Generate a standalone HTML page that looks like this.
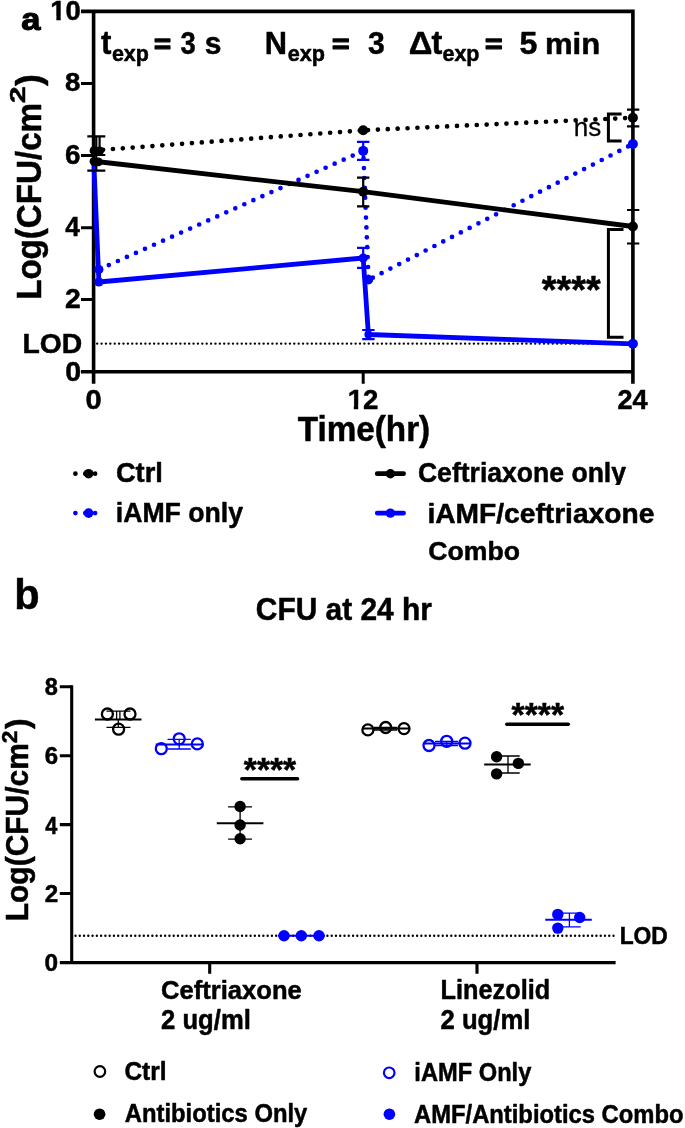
<!DOCTYPE html>
<html lang="en">
<head>
<meta charset="utf-8">
<title>Figure</title>
<style>
html,body{margin:0;padding:0;background:#fff;}
body{width:685px;height:1128px;overflow:hidden;}
svg{display:block;filter:blur(0.45px);}
text{font-family:"Liberation Sans",Arial,sans-serif;font-weight:bold;fill:#000;stroke:#000;stroke-width:0.5px;stroke-linejoin:round;}
.reg{font-weight:normal;stroke-width:0.3px;}
.ax{stroke:#000;stroke-width:3.6;fill:none;}
.tk{stroke:#000;stroke-width:3;fill:none;}
.eb{stroke:#000;stroke-width:2.2;fill:none;}
.ebb{stroke:#0000ff;stroke-width:2.2;fill:none;}
.blue{fill:#0000ff;}
</style>
</head>
<body>
<svg width="685" height="1128" viewBox="0 0 685 1128">
<rect x="0" y="0" width="685" height="1128" fill="#ffffff"/>

<g id="panelA">
<text transform="translate(21.26 29.78) scale(1.0873 1)" font-size="31.78" style="stroke-width:1.1px">a</text>

<path class="ax" d="M93.6 9.6V383.8M632.9 9.6V383.8M81 11.4H634.7M81 371.7H634.7"/>
<path class="tk" d="M81 83.6H93.6M81 155.6H93.6M81 227.7H93.6M81 299.6H93.6M363.2 371.8V383.8"/>
<line x1="97.2" y1="343.6" x2="631" y2="343.6" stroke="#000" stroke-width="2.4" stroke-linecap="round" stroke-dasharray="0 4.38"/>
<g fill="none" stroke="#000" stroke-width="4.7" stroke-linecap="round" stroke-dasharray="0 9.9">
<path d="M93.2 150.5L363.2 130.3"/>
<path d="M363.2 130.3L632.9 117.7" stroke-dashoffset="5.1"/>
</g>
<g fill="none" stroke="#0000ff" stroke-width="4.7" stroke-linecap="round" stroke-dasharray="0 9.9">
<path d="M98.9 269.5L363.2 150.9" stroke-dashoffset="8.9"/>
<path d="M363.2 150.9L368.6 279.8" stroke-dashoffset="2.6"/>
<path d="M368.6 279.8L632.9 144" stroke-dashoffset="5.2"/>
</g>
<polyline points="93.8,161.5 98.9,282 363.2,258 368.4,334.5 632.9,343.8" fill="none" stroke="#0000ff" stroke-width="4.8" stroke-linejoin="round"/>
<polyline points="96.3,161.5 363.2,191.7 632.9,226.5" fill="none" stroke="#000" stroke-width="4.8" stroke-linejoin="round"/>
<g class="eb">
<path d="M96.3 136.3V170.7M99.6 136.3V155M87.3 136.3H105.3M87.3 170.7H105.3M93 155H105.3"/>
<path d="M363.2 177.7V206.4M357 177.7H369.4M357 206.4H369.4"/>
<path d="M627 109.6H639.3M627 126.4H639.3"/>
<path d="M627 210H639.3M627 243.5H639.3"/>
</g>
<g class="ebb">
<path d="M363.2 141.8V159.9M357 141.8H369.4M357 159.9H369.4"/>
<path d="M363.2 247.9V267.8M357 247.9H369.4M357 267.8H369.4"/>
<path d="M368.4 330V339.1M362.2 330H374.6M362.2 339.1H374.6"/>
</g>
<circle cx="94" cy="150.7" r="4.4"/>
<circle cx="99.6" cy="150.9" r="4.4"/>
<circle cx="94" cy="161.3" r="4.4"/>
<circle cx="98.4" cy="161.8" r="4.4"/>
<circle cx="363.2" cy="130.3" r="5"/>
<circle cx="632.9" cy="117.7" r="5"/>
<circle cx="363.2" cy="191.7" r="5"/>
<circle cx="632.9" cy="226.5" r="5"/>
<g class="blue">
<circle cx="98.9" cy="269.5" r="4.6"/>
<circle cx="98.9" cy="282" r="4.6"/>
<circle cx="363.2" cy="150.9" r="5"/>
<circle cx="363.2" cy="258" r="4.6"/>
<circle cx="368.6" cy="279.8" r="4.6"/>
<circle cx="368.4" cy="334.5" r="4"/>
<circle cx="632.9" cy="144" r="5"/>
<circle cx="632.9" cy="343.8" r="5"/>
</g>

<text transform="translate(50.29 19.73) scale(1.0201 1)" font-size="26.86">10</text><rect x="50.40" y="16.56" width="5.96" height="4.97" fill="#fff"/><rect x="60.73" y="16.56" width="5.22" height="4.97" fill="#fff"/>
<text transform="translate(65.10 91.14) scale(1.0618 1)" font-size="26.01">8</text>
<text transform="translate(64.96 164.12) scale(0.9924 1)" font-size="27.99">6</text>
<text transform="translate(65.21 236.40) scale(0.9274 1)" font-size="28.22">4</text>
<text transform="translate(65.01 308.40) scale(1.0187 1)" font-size="27.81">2</text>
<text transform="translate(65.25 381.33) scale(1.0550 1)" font-size="27.14">0</text>
<text transform="translate(22.49 352.72) scale(1.0011 1)" font-size="28.27">LOD</text>
<text transform="translate(85.44 408.73) scale(1.0818 1)" font-size="26.86">0</text>
<text transform="translate(347.68 408.80) scale(1.0130 1)" font-size="27.24">12</text><rect x="347.80" y="405.59" width="5.99" height="5.01" fill="#fff"/><rect x="358.19" y="405.59" width="5.25" height="5.01" fill="#fff"/>
<text transform="translate(617.45 408.80) scale(0.9950 1)" font-size="27.24">24</text>
<text transform="translate(297.67 441.00) scale(0.9381 1)" font-size="35.49">Time(hr)</text>
<text transform="translate(41.00 299.84) rotate(-90) scale(0.9219 1)" font-size="35.93">Log(CFU/cm</text>
<text transform="translate(25 103.3) rotate(-90) scale(1.35 1)" font-size="22.5">2</text>
<text transform="translate(41.00 86.09) rotate(-90) scale(0.9941 1)" font-size="35.93">)</text>
<text transform="translate(101.01 53.67) scale(0.9488 1)" font-size="32.91">t</text>
<text transform="translate(111.94 60.89) scale(0.9650 1)" font-size="22.21">exp</text>
<text transform="translate(153.96 52.57) scale(1.1023 1)" font-size="26.49" style="stroke-width:1.3px">=</text>
<text transform="translate(180.58 53.91) scale(0.8782 1)" font-size="31.13">3</text>
<text transform="translate(204.75 53.99) scale(0.9835 1)" font-size="30.50">s</text>
<text transform="translate(264.82 54.00) scale(0.9716 1)" font-size="31.71">N</text>
<text transform="translate(287.64 60.89) scale(0.9733 1)" font-size="22.21">exp</text>
<text transform="translate(332.12 52.57) scale(1.1325 1)" font-size="26.49" style="stroke-width:1.3px">=</text>
<text transform="translate(368.12 53.91) scale(0.9686 1)" font-size="31.13">3</text>
<text transform="translate(408.68 54.00) scale(1.0389 1)" font-size="31.71">Δ</text>
<text transform="translate(431.59 53.67) scale(0.9883 1)" font-size="32.91">t</text>
<text transform="translate(442.54 60.89) scale(0.9650 1)" font-size="22.21">exp</text>
<text transform="translate(484.93 52.57) scale(1.1325 1)" font-size="26.49" style="stroke-width:1.3px">=</text>
<text transform="translate(519.44 53.99) scale(1.0243 1)" font-size="31.40">5</text>
<text transform="translate(544.98 54.00) scale(1.0344 1)" font-size="30.07">min</text>
<text transform="translate(573.84 136.33) scale(0.9764 1)" font-size="26.67" class="reg">ns</text>
<path d="M621.6 114H608.4V141H621.6" fill="none" stroke="#000" stroke-width="3"/>
<path d="M623.5 229.6H608.4V337.3H623.5" fill="none" stroke="#000" stroke-width="3"/>
<text transform="translate(541.71 303.43) scale(0.9597 1)" font-size="39.46">****</text>
<line x1="75.4" y1="473.7" x2="96" y2="473.7" stroke="#000" stroke-width="4.7" stroke-linecap="round" stroke-dasharray="0 9.85"/>
<circle cx="88.6" cy="473.7" r="4.8"/>
<line x1="75.4" y1="513.1" x2="96" y2="513.1" stroke="#0000ff" stroke-width="4.7" stroke-linecap="round" stroke-dasharray="0 9.85"/>
<circle class="blue" cx="88.6" cy="513.1" r="4.8"/>
<line x1="377.2" y1="473.7" x2="403.6" y2="473.7" stroke="#000" stroke-width="4.7" stroke-linecap="round"/>
<circle cx="390.4" cy="473.7" r="4.7"/>
<line x1="377.2" y1="513.1" x2="403.6" y2="513.1" stroke="#0000ff" stroke-width="4.7" stroke-linecap="round"/>
<circle class="blue" cx="390.4" cy="513.1" r="4.7"/>
<text transform="translate(115.91 482.32) scale(0.9850 1)" font-size="27.70">Ctrl</text>
<text transform="translate(115.73 522.00) scale(0.9450 1)" font-size="28.22">iAMF only</text>
<text transform="translate(417.94 481.92) scale(0.9592 1)" font-size="27.70">Ceftriaxone only</text>
<rect x="600" y="485" width="40" height="8" fill="#fff"/>
<text transform="translate(427.43 523.40) scale(1.0524 1)" font-size="26.76">iAMF/ceftriaxone</text>
<text transform="translate(428.33 560.34) scale(1.0128 1)" font-size="26.29">Combo</text>
</g>
<g id="panelB">
<text transform="translate(14.30 608.58) scale(0.9859 1)" font-size="42.18">b</text>
<text transform="translate(255.80 620.29) scale(0.9790 1)" font-size="30.53">CFU at 24 hr</text>
<line x1="75.5" y1="935.8" x2="615.6" y2="935.8" stroke="#000" stroke-width="2.4" stroke-linecap="round" stroke-dasharray="0 4.27"/>
<path d="M71.7 685.3V964.1M59.8 962.6H615.6" fill="none" stroke="#000" stroke-width="3.1"/>
<path d="M59.8 686.8H71.8M59.8 755.7H71.8M59.8 824.6H71.8M59.8 893.5H71.8M209.7 962.5V973.8M477 962.5V973.8" fill="none" stroke="#000" stroke-width="3.1"/>
<text transform="translate(619.66 943.55) scale(0.9291 1)" font-size="24.59">LOD</text>
<text transform="translate(44.83 695.46) scale(0.9802 1)" font-size="24.03">8</text>
<text transform="translate(44.70 764.36) scale(1.0005 1)" font-size="24.03">6</text>
<text transform="translate(45.27 833.50) scale(0.8769 1)" font-size="24.73">4</text>
<text transform="translate(44.75 902.40) scale(0.9915 1)" font-size="24.37">2</text>
<text transform="translate(44.62 971.26) scale(1.0163 1)" font-size="24.03">0</text>
<text transform="translate(27.60 921.22) rotate(-90) scale(0.9669 1)" font-size="30.98">Log(CFU/cm</text>
<text transform="translate(16.5 743.3) rotate(-90) scale(1.05 1)" font-size="21.5">2</text>
<text transform="translate(27.60 729.08) rotate(-90) scale(1.0375 1)" font-size="30.98">)</text>
<text transform="translate(160.98 998.53) scale(0.9638 1)" font-size="26.57">Ceftriaxone</text>
<text transform="translate(161.10 1029.30) scale(0.9407 1)" font-size="27.24">2 ug/ml</text>
<text transform="translate(440.59 998.80) scale(0.9247 1)" font-size="27.35">Linezolid</text>
<text transform="translate(440.50 1029.30) scale(0.9429 1)" font-size="27.24">2 ug/ml</text>

<g fill="none" stroke="#000">
<path d="M94.9 719.4H141.5" stroke-width="2"/>
<path d="M116.6 711.1V719.4M119.9 711.1V719.4M118.3 719.4V727.3M106.5 711.1H130.5M106.5 727.3H130.5" stroke-width="1.3"/>
<circle cx="107.4" cy="714" r="5.5" stroke-width="2.3"/>
<circle cx="130" cy="714" r="5.5" stroke-width="2.3"/>
<circle cx="118.6" cy="729.2" r="5.5" stroke-width="2.3"/>
</g>
<g fill="none" stroke="#0000ff">
<path d="M155.7 744.5H203.8" stroke-width="2"/>
<path d="M179.2 739.4V749M167.5 739.4H190.8M167.5 749H190.8" stroke-width="1.3"/>
<circle cx="161.3" cy="748.7" r="5.5" stroke-width="2.3"/>
<circle cx="179.2" cy="738.8" r="5.5" stroke-width="2.3"/>
<circle cx="197.3" cy="743.9" r="5.5" stroke-width="2.3"/>
</g>
<g fill="none" stroke="#000">
<path d="M216.8 823.2H263.4" stroke-width="2"/>
<path d="M240.1 806.8V839.2M228.1 806.8H252M228.1 839.2H252" stroke-width="1.3"/>
</g>
<circle cx="240.1" cy="806.5" r="5.7"/>
<circle cx="240.1" cy="825" r="5.7"/>
<circle cx="240.1" cy="838.8" r="5.7"/>
<path d="M278 935.8H325" stroke="#0000ff" stroke-width="2"/>
<circle class="blue" cx="284" cy="935.7" r="5.7"/>
<circle class="blue" cx="301.3" cy="935.7" r="5.7"/>
<circle class="blue" cx="319" cy="935.7" r="5.7"/>
<line x1="241.8" y1="778.8" x2="297.6" y2="778.8" stroke="#000" stroke-width="3.4" stroke-linecap="round"/>

<text transform="translate(243.82 780.66) scale(0.9940 1)" font-size="33.83">****</text>

<g fill="none" stroke="#000">
<path d="M362 728.6H409" stroke-width="2"/>
<path d="M385.5 727.4V730M374 727.4H397M374 730H397" stroke-width="1.3"/>
<circle cx="367.9" cy="729.9" r="5.5" stroke-width="2.3"/>
<circle cx="385.7" cy="727.5" r="5.5" stroke-width="2.3"/>
<circle cx="404" cy="728.6" r="5.5" stroke-width="2.3"/>
</g>
<g fill="none" stroke="#0000ff">
<path d="M423 743.6H470" stroke-width="2"/>
<path d="M446.7 741.5V745.5M435 741.5H458M435 745.5H458" stroke-width="1.3"/>
<circle cx="429" cy="745.5" r="5.5" stroke-width="2.3"/>
<circle cx="446.7" cy="741.3" r="5.5" stroke-width="2.3"/>
<circle cx="465" cy="743.2" r="5.5" stroke-width="2.3"/>
</g>
<g fill="none" stroke="#000">
<path d="M484.2 764.6H530.7" stroke-width="2"/>
<path d="M508 756V773M496 756H519.7M496 773H519.7" stroke-width="1.3"/>
</g>
<circle cx="496.6" cy="756.8" r="5.7"/>
<circle cx="518.4" cy="763.4" r="5.7"/>
<circle cx="496.6" cy="773.9" r="5.7"/>
<g fill="none" stroke="#0000ff">
<path d="M545.3 919.7H591.8" stroke-width="2"/>
<path d="M569.4 913.2V926.9M557 913.2H580.7M557 926.9H580.7" stroke-width="1.3"/>
</g>
<circle class="blue" cx="557.8" cy="914.4" r="5.7"/>
<circle class="blue" cx="579.7" cy="917.5" r="5.7"/>
<circle class="blue" cx="557.8" cy="928.1" r="5.7"/>
<line x1="506.8" y1="724.3" x2="568.3" y2="724.3" stroke="#000" stroke-width="3.4" stroke-linecap="round"/>

<text transform="translate(511.62 726.26) scale(0.9959 1)" font-size="33.83">****</text>

<circle cx="99.9" cy="1071.5" r="5.3" fill="none" stroke="#000" stroke-width="2.2"/>
<circle cx="99.6" cy="1114.2" r="5.8"/>
<circle cx="389.2" cy="1072.8" r="5.3" fill="none" stroke="#0000ff" stroke-width="2.2"/>
<circle class="blue" cx="389.4" cy="1114.2" r="5.8"/>
<text transform="translate(124.42 1079.95) scale(0.9712 1)" font-size="25.16">Ctrl</text>
<text transform="translate(124.80 1122.30) scale(0.9468 1)" font-size="25.16">Antibiotics Only</text>
<text transform="translate(414.34 1081.20) scale(0.9351 1)" font-size="25.31">iAMF Only</text>
<text transform="translate(414.01 1122.60) scale(0.9403 1)" font-size="25.31">AMF/Antibiotics Combo</text>
</g>
</svg>
</body>
</html>
